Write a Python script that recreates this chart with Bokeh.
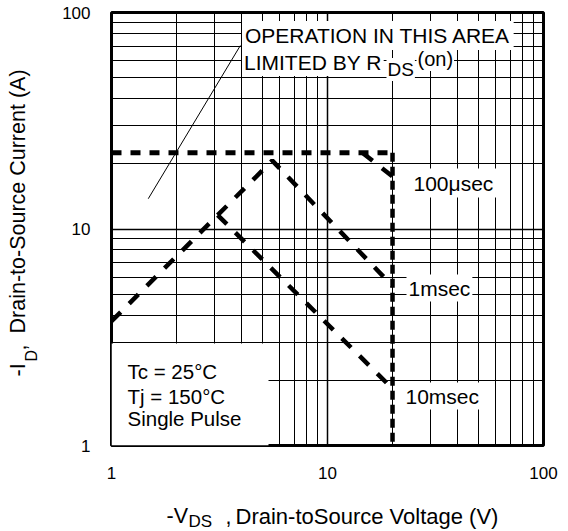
import math
from bokeh.plotting import figure
from bokeh.layouts import row, column
from bokeh.models import FixedTicker, Label, BoxAnnotation, PrintfTickFormatter, Range1d
from bokeh.core.properties import value
from bokeh.embed import file_html
from bokeh.resources import INLINE

# ---------------- data ----------------
major_ticks = [1, 10, 100]
minor_ticks = [2, 3, 4, 5, 6, 7, 8, 9, 20, 30, 40, 50, 60, 70, 80, 90]
tick_labels = ["1", "10", "100"]

# DC / package limit (dotted)
dc_v = [1, 20, 20]
dc_i = [22.5, 22.5, 1]
# 100 usec
us100_v = [14.5, 20]
us100_i = [22.5, 17.5]
# 1 msec (includes RDS(on) rising part)
ms1_v = [1, 5.55, 20]
ms1_i = [3.75, 20.7, 5.45]
# 10 msec
ms10_v = [3.1, 20]
ms10_i = [11.6, 1.83]

# ---------------- layout constants ----------------
FONT = "Liberation Sans"
TOTAL_W, TOTAL_H = 568, 531
YT_W = 40            # width of the y-title strip
XT_H = 34            # height of the x-title strip
MAIN_W = TOTAL_W - YT_W
MAIN_H = TOTAL_H - XT_H
FL, FR, FT, FB = 111, 543, 12, 445   # frame edges in page px

# ---------------- main figure ----------------
p = figure(width=MAIN_W, height=MAIN_H, x_axis_type="log", y_axis_type="log",
           x_range=(1, 100), y_range=(1, 100),
           output_backend="svg", toolbar_location=None,
           min_border_left=FL - YT_W, min_border_right=TOTAL_W - FR,
           min_border_top=FT, min_border_bottom=MAIN_H - FB)
p.background_fill_color = "white"
p.border_fill_color = "white"
p.outline_line_color = "black"
p.outline_line_width = 3

ticker = FixedTicker(ticks=major_ticks, minor_ticks=minor_ticks)
overrides = {v: s for v, s in zip(major_ticks, tick_labels)}
for ax in (p.xaxis[0], p.yaxis[0]):
    ax.ticker = ticker
    ax.formatter = PrintfTickFormatter(format="%d")
    ax.major_label_overrides = overrides
    ax.axis_line_color = None
    ax.major_tick_line_color = None
    ax.minor_tick_line_color = None
    ax.major_tick_out = 0
    ax.major_tick_in = 0
    ax.minor_tick_out = 0
    ax.minor_tick_in = 0
    ax.major_label_text_font = FONT
    ax.major_label_text_font_size = "17px"
    ax.major_label_text_color = "black"
p.xaxis.major_label_standoff = 21
p.yaxis.major_label_standoff = 21

for g in (p.xgrid[0], p.ygrid[0]):
    g.ticker = ticker
    g.grid_line_color = "black"
    g.grid_line_width = 1.5
    g.grid_line_alpha = 1
    g.minor_grid_line_color = "black"
    g.minor_grid_line_width = 1
    g.minor_grid_line_alpha = 1


def sx(px):
    return px - FL


def sy(py):
    return FB - py


def lab(text, px, py, size, bg=False, pad=2):
    kw = dict(x=sx(px), y=sy(py), x_units="screen", y_units="screen",
              text=text, text_font=FONT, text_font_size=f"{size}px",
              text_color="black", text_baseline="middle", text_align="left")
    if bg:
        kw.update(background_fill_color="white", background_fill_alpha=1.0, padding=pad)
    p.add_layout(Label(**kw))


# white area behind the conditions text
p.add_layout(BoxAnnotation(left=sx(111), right=sx(268), bottom=sy(445), top=sy(343),
                           left_units="screen", right_units="screen",
                           bottom_units="screen", top_units="screen",
                           fill_color="white", fill_alpha=1.0, line_color=None,
                           level="underlay"))

# ---------------- curves ----------------
p.line(dc_v[:2], dc_i[:2], line_color="black", line_width=5, line_dash="10 9", line_cap="butt")
p.line(dc_v[1:], dc_i[1:], line_color="black", line_width=4.5, line_dash="9 5", line_cap="butt")
p.line(us100_v, us100_i, line_color="black", line_width=4.5, line_dash="13 12", line_cap="butt")
p.line(ms1_v, ms1_i, line_color="black", line_width=4.5, line_dash="13 12", line_cap="butt")
p.line(ms10_v, ms10_i, line_color="black", line_width=4.5, line_dash="13 12", line_cap="butt")

# leader line for the R_DS(on) note
leader_x = [1.48, 3.95]
leader_y = [13.8, 70.4]
p.line(leader_x, leader_y, line_color="black", line_width=1)

# ---------------- annotations in the plot ----------------
lab("OPERATION IN THIS AREA", 241.5, 35, 21, bg=True, pad=3)
lab("LIMITED BY R", 241.5, 62, 21, bg=True, pad=2)
lab("DS", 386, 69, 19, bg=True, pad=1)
lab("(on)", 416, 58.5, 20, bg=True, pad=1)

lab("100\u03bcsec", 410, 182.5, 21, bg=True, pad=3)
lab("1msec", 406, 287.5, 21, bg=True, pad=2)
lab("10msec", 403, 395.5, 21, bg=True, pad=2)

lab("Tc = 25\u00b0C", 127, 370.5, 20.5)
lab("Tj = 150\u00b0C", 127, 396, 20.5)
lab("Single Pulse", 127, 418, 20.5)

# ---------------- y-axis title strip ----------------
# frame of this strip spans page rows FT..FB so that data y = TOTAL_H - page y
yt = figure(width=YT_W, height=TOTAL_H,
            x_range=Range1d(0, YT_W), y_range=Range1d(TOTAL_H - FB, TOTAL_H - FT),
            x_axis_type=None, y_axis_type=None, output_backend="svg", toolbar_location=None,
            min_border_left=0, min_border_right=0,
            min_border_top=FT, min_border_bottom=TOTAL_H - FB)
yt.outline_line_color = None
yt.background_fill_color = "white"
yt.border_fill_color = "white"

A = math.pi / 2
ytitle_parts = [("-I", 17.5, 376, "21.5px"), ("D", 31.0, 361, "16px"),
                (",", 17.5, 350, "21.5px"), ("Drain-to-Source Current (A)", 17.5, 333, "21.5px")]
for txt, px, py, fs in ytitle_parts:
    yt.text(x=[px], y=[TOTAL_H - py], text=[txt], angle=A, text_font=value(FONT),
            text_font_size=value(fs), text_color="black",
            text_baseline="middle", text_align="left")

# ---------------- x-axis title strip ----------------
# frame of this strip spans page columns FL..FR so that data x = page x
xt = figure(width=MAIN_W, height=XT_H,
            x_range=Range1d(FL, FR), y_range=Range1d(0, XT_H),
            x_axis_type=None, y_axis_type=None, output_backend="svg", toolbar_location=None,
            min_border_left=FL - YT_W, min_border_right=TOTAL_W - FR,
            min_border_top=0, min_border_bottom=0)
xt.outline_line_color = None
xt.background_fill_color = "white"
xt.border_fill_color = "white"

xtitle_parts = [("-V", 166, 515.5, "21.5px"), ("DS", 188, 521, "17px"),
                (",", 225, 515.5, "21.5px"), ("Drain-toSource Voltage (V)", 235, 515.5, "22px")]
for txt, px, py, fs in xtitle_parts:
    xt.text(x=[px], y=[TOTAL_H - py], text=[txt], text_font=value(FONT),
            text_font_size=value(fs), text_color="black",
            text_baseline="middle", text_align="left")

layout = row(yt, column(p, xt, spacing=0), spacing=0)
open("out.html", "w").write(file_html(layout, INLINE))
